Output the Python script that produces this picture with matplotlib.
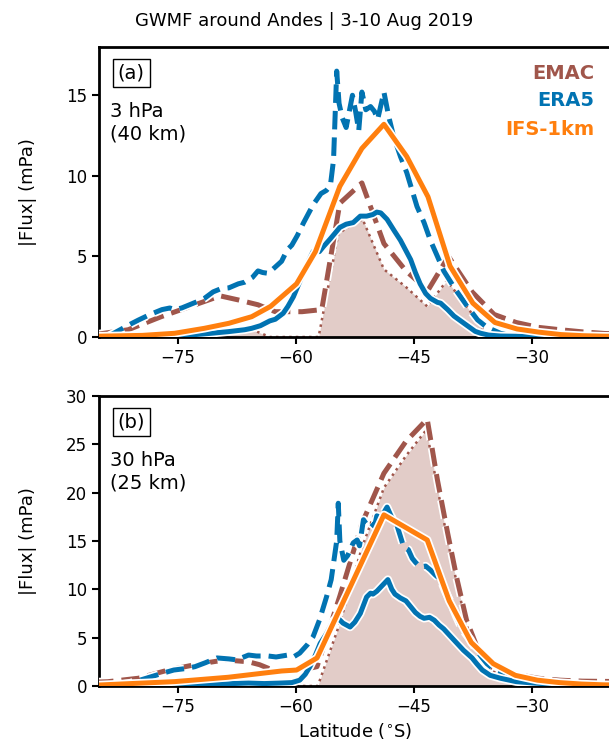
import matplotlib
matplotlib.use("Agg")
import matplotlib.pyplot as plt
import matplotlib.patheffects as pe
import numpy as np

c_emac = '#a0564b'
c_era5 = '#0173b2'
c_ifs = '#ff7f0e'

# ---------------- panel (a): 3 hPa ----------------
emac_a_lat = [-85.5, -81.3, -77.1, -72.8, -69.6, -67.3, -64.8, -62.6, -59.2, -56.7, -54.4,
              -51.6, -48.8, -46.0, -43.2, -40.6, -37.6, -34.8, -32.0, -29.2, -26.4, -23.6, -20.8, -18.0]
emac_a = [0.15, 0.45, 1.26, 2.0, 2.55, 2.3, 2.0, 1.57, 1.57, 1.7, 8.3,
          9.56, 5.8, 4.1, 2.9, 5.0, 2.8, 1.4, 0.9, 0.6, 0.45, 0.32, 0.22, 0.18]

emacf_a_lat = [-85.0, -76.5, -73.5, -71.1, -68.5, -65.4, -63.3, -57.1, -54.6, -53.3, -51.5,
               -48.8, -46.0, -43.3, -40.8, -38.6, -35.6, -34.5, -18.0]
emacf_a = [0, 0, 0.2, 0.43, 0.45, 0.43, 0, 0, 6.4, 6.85, 7.3,
           4.2, 3.1, 1.9, 3.5, 2.1, 0.1, 0, 0]

era5d_a_lat = [-84.0, -82.5, -81.0, -80.0, -78.5, -77.0, -76.0, -75.4, -74.5, -73.5, -72.5, -71.6,
               -70.5, -69.5, -68.5, -67.3, -66.5, -65.5, -64.8, -64.2, -63.5, -62.7, -61.8, -61.1,
               -60.5, -59.8, -59.0, -57.8, -56.8, -56.1, -55.6, -55.2, -54.8, -54.5, -54.1, -53.6,
               -53.2, -52.8, -52.4, -52.0, -51.6, -51.1, -50.5, -50.0, -49.6, -48.8, -48.2, -47.6,
               -46.7, -45.9, -44.6, -43.7, -42.9, -42.0, -41.2, -40.3, -39.5, -38.2, -36.9, -35.7,
               -34.0, -32.5, -30.0, -18.0]
era5d_a = [0.0, 0.4, 0.8, 1.05, 1.4, 1.7, 1.8, 1.7, 1.8, 2.0, 2.2, 2.4,
           2.8, 3.0, 3.05, 3.3, 3.4, 3.7, 4.1, 4.0, 3.95, 4.3, 4.7, 5.4,
           5.7, 6.3, 7.1, 8.2, 8.9, 9.1, 9.4, 11.0, 16.5, 14.5, 13.6, 13.0,
           14.0, 15.0, 14.0, 12.8, 15.2, 14.1, 14.3, 14.0, 13.5, 15.2, 13.7, 12.5,
           11.2, 10.2, 8.1, 7.1, 6.0, 5.0, 4.1, 3.4, 2.8, 1.9, 1.06, 0.6,
           0.23, 0.06, 0.02, 0.0]

era5s_a_lat = [-85.0, -76.0, -74.0, -71.0, -68.6, -66.5, -65.6, -64.5, -63.3, -62.6, -61.6, -61.0,
               -60.3, -59.7, -59.0, -58.4, -57.8, -57.0, -56.5, -55.6, -54.4, -53.6, -52.7, -51.8,
               -51.0, -50.2, -49.7, -49.2, -48.4, -47.5, -46.7, -45.4, -44.8, -44.2, -43.5, -42.9,
               -42.0, -41.6, -40.7, -39.9, -38.2, -37.2, -36.5, -35.5, -34.0, -30.0, -18.0]
era5s_a = [0.0, 0.02, 0.1, 0.22, 0.33, 0.45, 0.54, 0.7, 1.0, 1.1, 1.47, 1.9,
           2.5, 3.2, 4.0, 4.7, 5.3, 5.3, 5.6, 6.1, 6.8, 7.0, 7.1, 7.5,
           7.5, 7.6, 7.75, 7.7, 7.3, 6.6, 6.0, 4.8, 4.0, 3.3, 2.7, 2.4,
           2.15, 2.1, 1.7, 1.3, 0.7, 0.35, 0.23, 0.12, 0.06, 0.03, 0.02]

ifs_a_lat = [-85.0, -79.5, -75.4, -71.6, -68.5, -65.6, -63.2, -59.9, -57.5, -54.4, -51.6,
             -48.8, -45.9, -43.2, -40.4, -37.5, -34.7, -31.9, -29.1, -26.3, -23.5, -20.7, -18.0]
ifs_a = [0.05, 0.1, 0.23, 0.54, 0.85, 1.26, 1.9, 3.3, 5.3, 9.35, 11.7,
         13.2, 11.2, 8.7, 4.4, 2.1, 0.9, 0.5, 0.3, 0.15, 0.08, 0.05, 0.04]

# ---------------- panel (b): 30 hPa ----------------
emac_b_lat = [-85.5, -83.9, -80.0, -76.2, -72.8, -69.0, -66.0, -64.6, -62.8, -60.0, -57.3, -54.4,
              -51.6, -48.8, -46.0, -43.3, -42.0, -40.7, -39.5, -38.3, -37.0, -35.3, -32.0, -29.2,
              -26.4, -23.6, -18.0]
emac_b = [0.4, 0.44, 0.8, 1.65, 2.2, 2.7, 2.5, 2.2, 1.6, 1.5, 2.0, 9.3,
          16.8, 22.0, 25.3, 27.6, 21.3, 15.8, 11.0, 6.8, 4.1, 2.0, 1.2, 0.8,
          0.6, 0.5, 0.45]

emacf_b_lat = [-85.0, -74.0, -71.0, -68.4, -65.6, -62.8, -57.2, -54.4, -51.6, -48.8, -46.0,
               -43.4, -42.0, -40.7, -39.5, -38.3, -37.0, -35.3, -32.0, -29.0, -25.0, -18.0]
emacf_b = [0, 0, 0.3, 0.8, 0.5, 0, 0, 6.5, 14.3, 20.5, 23.8,
           26.5, 20.5, 15.0, 10.5, 6.3, 3.6, 1.6, 0.6, 0.2, 0.05, 0]

era5d_b_lat = [-83.0, -81.0, -79.0, -77.0, -75.5, -74.0, -72.8, -71.5, -70.0, -68.5, -67.5, -66.0,
               -65.0, -63.5, -62.5, -61.0, -60.3, -59.5, -58.5, -57.8, -57.0, -56.1, -55.5, -55.2,
               -54.8, -54.6, -54.4, -53.9, -53.4, -52.7, -52.2, -51.9, -51.4, -50.9, -50.5, -50.0,
               -49.7, -49.2, -48.4, -47.9, -47.1, -46.6, -46.3, -45.7, -45.2, -44.8, -44.2, -43.5,
               -42.9, -42.3, -41.6, -41.0, -40.3, -39.6, -39.0, -38.4, -37.8, -37.0, -35.7, -34.5,
               -32.7, -31.0, -29.0, -26.0, -18.0]
era5d_b = [0.05, 0.3, 0.8, 1.3, 1.65, 1.8, 2.0, 2.4, 2.9, 2.8, 2.7, 3.2,
           3.1, 3.1, 3.0, 3.2, 3.0, 3.4, 4.3, 5.1, 6.8, 9.2, 11.0, 12.7,
           15.0, 18.9, 15.0, 13.0, 13.5, 14.8, 15.1, 14.5, 17.2, 16.6, 16.9, 16.5,
           17.6, 17.4, 18.5, 17.6, 16.5, 15.2, 14.4, 14.1, 13.2, 12.8, 12.3, 12.4,
           12.0, 11.5, 11.0, 9.8, 8.6, 7.2, 6.1, 5.4, 4.8, 3.6, 2.3, 1.5,
           1.0, 0.5, 0.2, 0.1, 0.05]

era5s_b_lat = [-85.0, -76.0, -72.0, -68.0, -66.0, -64.0, -62.0, -60.5, -59.5, -58.8, -58.2, -57.5,
               -56.9, -56.1, -55.2, -54.5, -54.0, -53.1, -52.5, -51.8, -51.0, -50.5, -50.2, -49.7,
               -49.0, -48.3, -47.8, -47.4, -46.7, -46.0, -45.4, -44.8, -44.2, -43.7, -43.0, -42.4,
               -41.8, -41.2, -40.3, -39.5, -38.7, -37.6, -37.0, -36.3, -35.3, -34.0, -32.0, -29.7,
               -27.0, -24.0, -18.0]
era5s_b = [0.0, 0.05, 0.15, 0.25, 0.3, 0.25, 0.3, 0.35, 0.6, 1.2, 2.0, 3.2,
           4.4, 5.4, 6.8, 6.9, 6.5, 6.1, 6.6, 7.5, 9.2, 9.6, 9.5, 9.8,
           10.4, 11.0, 10.0, 9.5, 9.1, 8.8, 8.2, 7.6, 7.2, 7.0, 7.1, 6.8,
           6.3, 5.9, 5.1, 4.4, 3.7, 2.9, 2.3, 1.65, 1.1, 0.8, 0.45, 0.3,
           0.15, 0.08, 0.05]

ifs_b_lat = [-85.0, -75.4, -68.6, -61.8, -59.9, -57.3, -48.8, -43.3, -40.5, -37.7, -34.9,
             -32.1, -29.3, -26.5, -23.7, -20.9, -18.0]
ifs_b = [0.1, 0.45, 0.9, 1.55, 1.65, 2.9, 17.7, 15.1, 8.8, 4.5, 2.3,
         1.1, 0.6, 0.35, 0.2, 0.12, 0.1]

panels = [
    dict(label='(a)', level='3 hPa\n(40 km)', ylim=(0, 18), yticks=[0, 5, 10, 15],
         emac=(emac_a_lat, emac_a), emacf=(emacf_a_lat, emacf_a),
         era5d=(era5d_a_lat, era5d_a), era5s=(era5s_a_lat, era5s_a), ifs=(ifs_a_lat, ifs_a)),
    dict(label='(b)', level='30 hPa\n(25 km)', ylim=(0, 30), yticks=[0, 5, 10, 15, 20, 25, 30],
         emac=(emac_b_lat, emac_b), emacf=(emacf_b_lat, emacf_b),
         era5d=(era5d_b_lat, era5d_b), era5s=(era5s_b_lat, era5s_b), ifs=(ifs_b_lat, ifs_b)),
]

fig = plt.figure(figsize=(6.09, 7.4), dpi=100)
ax_a = fig.add_axes([0.1626, 0.5446, 0.84, 0.392])
ax_b = fig.add_axes([0.1626, 0.0730, 0.84, 0.392])

lw = 3.6
halo = [pe.Stroke(linewidth=lw + 2.5, foreground='white'), pe.Normal()]

for ax, p in zip([ax_a, ax_b], panels):
    lat, val = p['emacf']
    ax.fill_between(lat, 0, val, color=c_emac, alpha=0.3, lw=0, zorder=1)
    ax.plot(lat, val, color=c_emac, ls=':', lw=1.8, zorder=2)
    lat, val = p['emac']
    ax.plot(lat, val, color=c_emac, ls='--', lw=lw, path_effects=halo, zorder=3)
    lat, val = p['era5d']
    ax.plot(lat, val, color=c_era5, ls='--', lw=lw, path_effects=halo, zorder=4)
    lat, val = p['era5s']
    ax.plot(lat, val, color=c_era5, ls='-', lw=lw, path_effects=halo, zorder=5)
    lat, val = p['ifs']
    ax.plot(lat, val, color=c_ifs, ls='-', lw=lw, path_effects=halo, zorder=6)

    ax.set_xlim(-85, -20)
    ax.set_ylim(*p['ylim'])
    ax.set_xticks([-75, -60, -45, -30])
    ax.set_yticks(p['yticks'])
    ax.tick_params(labelsize=12, length=5, width=1.5)
    for s in ['left', 'top', 'bottom']:
        ax.spines[s].set_linewidth(2)
    ax.spines['right'].set_visible(False)
    ax.set_ylabel('|Flux| (mPa)', fontsize=13, labelpad=21)

    ax.text(0.063, 0.91, p['label'], transform=ax.transAxes, fontsize=14,
            ha='center', va='center',
            bbox=dict(boxstyle='square,pad=0.25', fc='white', ec='black', lw=1))
    ax.text(0.022, 0.81, p['level'], transform=ax.transAxes, fontsize=14,
            ha='left', va='top')

for name, col, y in [('EMAC', c_emac, 0.91), ('ERA5', c_era5, 0.815), ('IFS-1km', c_ifs, 0.715)]:
    ax_a.text(0.968, y, name, transform=ax_a.transAxes, color=col, fontsize=14,
              fontweight='bold', ha='right', va='center')

ax_b.set_xlabel('Latitude ($^{\\circ}$S)', fontsize=13)
fig.suptitle('GWMF around Andes | 3-10 Aug 2019', fontsize=13, x=0.5, y=0.984)

fig.savefig('out.png', dpi=100)
